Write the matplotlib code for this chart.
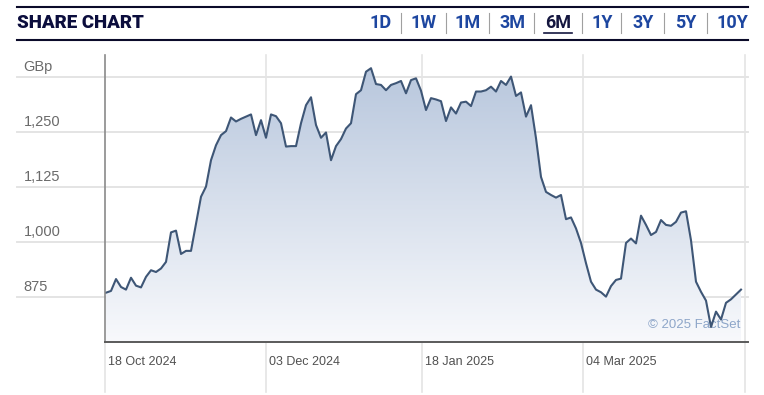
"""Share chart, 6M view, recreated with matplotlib."""

import numpy as np
import matplotlib
matplotlib.use("Agg")
import matplotlib.pyplot as plt
from matplotlib.lines import Line2D
from matplotlib.colors import LinearSegmentedColormap

# closing prices (GBp), one per trading day from 18 Oct 2024
prices = [
    885, 889, 916, 898, 892, 919, 901, 897, 921, 936, 932, 940, 955, 1022, 1026, 973,
    980, 980, 1042, 1103, 1126, 1186, 1220, 1243, 1252, 1283, 1274, 1280, 1285, 1290,
    1243, 1277, 1237,
    1290, 1286, 1270, 1217, 1218, 1218, 1270, 1311, 1329, 1266, 1237, 1249, 1186, 1218,
    1234, 1258, 1270, 1336, 1345, 1387, 1395, 1359, 1357, 1345, 1357, 1361, 1366, 1338,
    1368, 1372, 1344, 1300,
    1327, 1324, 1320, 1275, 1306, 1292, 1317, 1319, 1309, 1342, 1342, 1345, 1353, 1342,
    1366, 1357, 1376, 1332, 1340, 1285, 1311, 1236, 1148, 1114, 1107, 1101, 1107, 1052,
    1056, 1031, 998,
    952, 910, 892, 886, 876, 900, 914, 917, 998, 1008, 997, 1060, 1039, 1016, 1023, 1050,
    1039, 1037, 1046, 1067, 1070, 1004, 910, 887, 867, 807, 842, 824, 862, 870, 881, 892,
]

date_labels = ["18 Oct 2024", "03 Dec 2024", "18 Jan 2025", "04 Mar 2025"]
date_index = [-0.2, 32, 63.2, 95.4]

y_ticks = [875, 1000, 1125, 1250, 1375]
y_labels = ["875", "1,000", "1,125", "1,250", "GBp"]

ranges = ["1D", "1W", "1M", "3M", "6M", "1Y", "3Y", "5Y", "10Y"]
active_range = "6M"

W, H = 764, 395
fig = plt.figure(figsize=(W / 100, H / 100), dpi=100)
fig.patch.set_facecolor("white")


def fx(px):
    return px / W


def fy(py):
    return 1 - py / H


ax = fig.add_axes([fx(105), fy(342), fx(745) - fx(105), fy(55) - fy(342)])
x = np.arange(len(prices))
y = np.array(prices)
ax.set_xlim(-0.2, 127.8)
ax.set_ylim(773, 1425)

for s in ax.spines.values():
    s.set_visible(False)
ax.set_xticks([])
ax.set_yticks([])

grid_c = "#e4e4e4"
# horizontal grid, running into the label column
for v, lab in zip(y_ticks, y_labels):
    ax.plot([-0.1375, 1.005], [v, v], transform=ax.get_yaxis_transform(),
            color=grid_c, lw=1.4, clip_on=False, zorder=0)
    ax.annotate(lab, xy=(-0.127, v), xycoords=ax.get_yaxis_transform(),
                xytext=(0, 2), textcoords="offset points", va="bottom", ha="left",
                fontsize=10.5, color="#6a6a6a", family="Liberation Sans")

# vertical grid, running through the date labels
for xi in date_index[1:] + [127.8]:
    ax.plot([xi, xi], [-0.174, 1], transform=ax.get_xaxis_transform(),
            color=grid_c, lw=1.2, clip_on=False, zorder=0)
ax.plot([-0.2, -0.2], [-0.174, 0], transform=ax.get_xaxis_transform(),
        color=grid_c, lw=1.2, clip_on=False, zorder=0)

for xi, lab in zip(date_index, date_labels):
    ax.annotate(lab, xy=(xi, -0.07), xycoords=ax.get_xaxis_transform(),
                xytext=(2.5, 0), textcoords="offset points", va="center", ha="left",
                fontsize=9, color="#505050",
                family=["Liberation Sans Narrow", "Liberation Sans"])

# gradient area under the line
cmap = LinearSegmentedColormap.from_list("fill", ["#f8f9fc", "#b8c7dd"])
grad = np.linspace(0, 1, 256).reshape(-1, 1)
im = ax.imshow(grad, aspect="auto", cmap=cmap, origin="lower",
               extent=[x[0], x[-1], 773, y.max()], zorder=1)
poly = ax.fill_between(x, y, 773, facecolor="none", edgecolor="none")
im.set_clip_path(poly.get_paths()[0], transform=ax.transData)

ax.text(0.993, 0.06, "\u00a9 2025 FactSet", transform=ax.transAxes, ha="right",
        va="center", fontsize=9.5, color="#8ea6c9", family="Liberation Sans", zorder=2)

ax.plot(x, y, color="#3e5676", lw=1.5, zorder=3)

# axis lines
ax.plot([0, 0], [0, 1], transform=ax.transAxes, color="#8a8a8a", lw=1.2,
        clip_on=False, zorder=4)
ax.plot([0, 1.005], [0, 0], transform=ax.transAxes, color="#5a5a5a", lw=1.4,
        clip_on=False, zorder=4)

# header
for py in (7, 40):
    fig.add_artist(Line2D([fx(17), fx(748)], [fy(py), fy(py)], color="#0b0b2a", lw=1.5))
fig.text(fx(17), fy(23.5), "SHARE CHART", ha="left", va="center", fontsize=13.5,
         fontweight="heavy", color="#0b0d3d", family="Roboto")

centers = [381, 423.5, 468, 513, 558, 602.5, 643.5, 685.5, 732]
seps = [401, 446, 489, 534, 582, 621, 664, 707]
for c, r in zip(centers, ranges):
    col = "#14163f" if r == active_range else "#1d46a0"
    fig.text(fx(c), fy(23.5), r, ha="center", va="center", fontsize=13,
             fontweight="bold", color=col, family="Roboto")
    if r == active_range:
        fig.add_artist(Line2D([fx(c - 14), fx(c + 14)], [fy(33), fy(33)],
                              color=col, lw=1.2))
for s in seps:
    fig.add_artist(Line2D([fx(s), fx(s)], [fy(13), fy(33)], color="#a0a0a0", lw=0.8))

fig.savefig("out.png", dpi=100)
